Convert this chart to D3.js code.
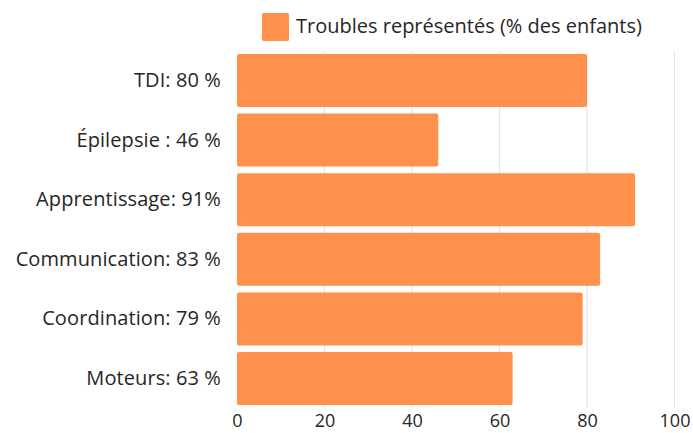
<!DOCTYPE html>
<html>
<head>
<meta charset="utf-8">
<script src="https://cdn.jsdelivr.net/npm/d3@7"></script>
<style>
  html, body { margin: 0; padding: 0; background: #ffffff; }
  svg { display: block; }
  text { font-family: "Open Sans", sans-serif; fill: #262626; }
</style>
</head>
<body>
<svg id="chart" width="693" height="433"></svg>
<script>
// Categories and values (share of children, %)
const categories = [
  "TDI: 80 %",
  "Épilepsie : 46 %",
  "Apprentissage: 91%",
  "Communication: 83 %",
  "Coordination: 79 %",
  "Moteurs: 63 %"
];
const values = [80, 46, 91, 83, 79, 63];
const xTicks = [0, 20, 40, 60, 80, 100];
const seriesName = "Troubles représentés (% des enfants)";

const barColor = "#FF914D";
const fontFamily = "'Open Sans', sans-serif";
const svg = d3.select("#chart");

const x = d3.scaleLinear().domain([0, 100]).range([237, 674.5]);
const y = d3.scaleBand()
  .domain(categories)
  .range([51, 408])
  .paddingInner(0.11)
  .paddingOuter(0.05);

// Vertical gridlines
svg.append("g")
  .selectAll("line")
  .data(xTicks.filter(d => d > 0))
  .join("line")
  .attr("x1", d => x(d)).attr("x2", d => x(d))
  .attr("y1", 51).attr("y2", 408)
  .attr("stroke", "#e4e4e4")
  .attr("stroke-width", 1.2);

// Bars
svg.append("g")
  .selectAll("rect")
  .data(values)
  .join("rect")
  .attr("x", x(0))
  .attr("y", (d, i) => y(categories[i]))
  .attr("width", d => x(d) - x(0))
  .attr("height", y.bandwidth())
  .attr("rx", 2)
  .attr("fill", barColor);

// Category axis (labels only)
const yAxis = svg.append("g")
  .attr("transform", `translate(${x(0)},0)`)
  .call(d3.axisLeft(y).tickSize(0).tickPadding(16));
yAxis.select(".domain").remove();
yAxis.selectAll("text")
  .style("font-family", fontFamily)
  .style("font-size", "20px")
  .style("letter-spacing", "0.1px")
  .attr("fill", "#262626");

// Value axis (labels only)
const xAxis = svg.append("g")
  .attr("transform", "translate(0,408)")
  .call(d3.axisBottom(x).tickValues(xTicks).tickSize(0).tickPadding(6));
xAxis.select(".domain").remove();
xAxis.selectAll("text")
  .style("font-family", fontFamily)
  .style("font-size", "18px")
  .attr("fill", "#262626");

// Legend
const legend = svg.append("g");
legend.append("rect")
  .attr("x", 262).attr("y", 13)
  .attr("width", 27).attr("height", 28)
  .attr("rx", 1.5)
  .attr("fill", barColor);
legend.append("text")
  .attr("x", 296).attr("y", 32.5)
  .style("font-family", fontFamily)
  .style("font-size", "20px")
  .text(seriesName);
</script>
</body>
</html>
